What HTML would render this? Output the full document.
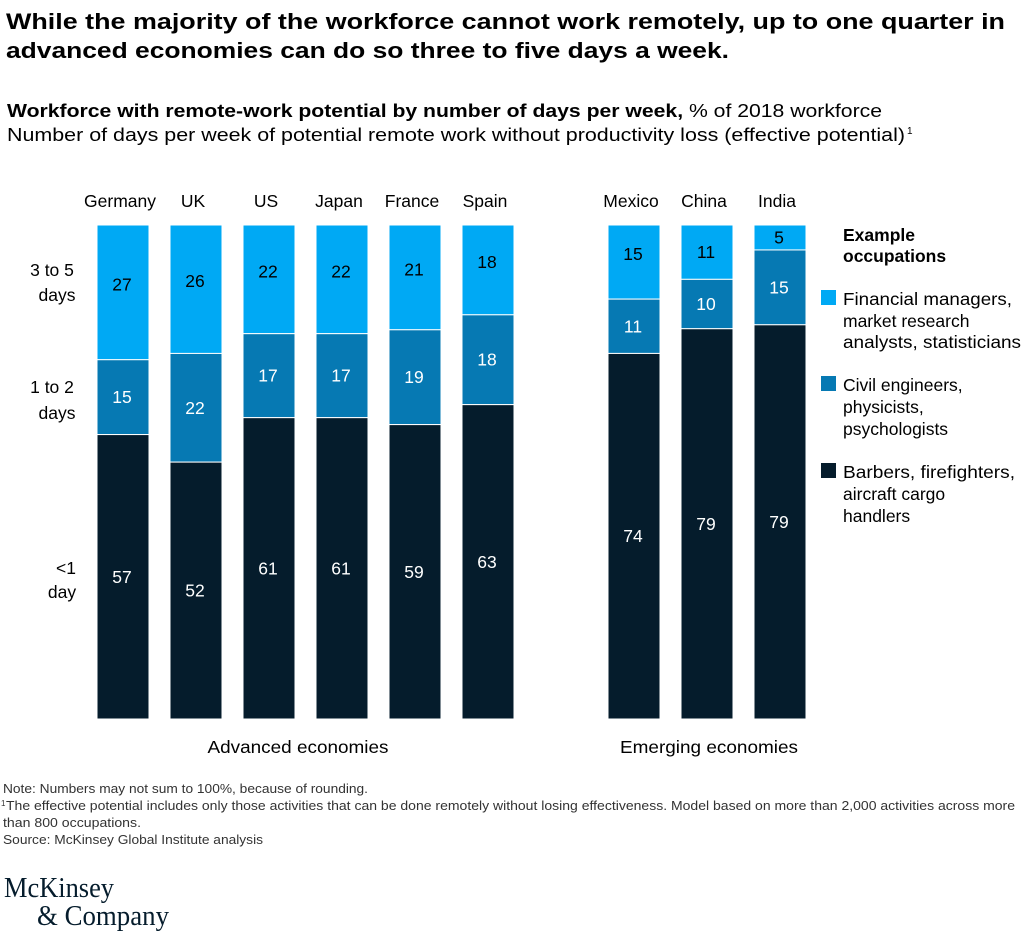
<!DOCTYPE html>
<html><head><meta charset="utf-8"><style>
body{margin:0;background:#fff;font-family:"Liberation Sans",sans-serif;}
#wrap{position:relative;width:1024px;height:941px;overflow:hidden;}
</style></head><body>
<div id="wrap">
<svg id="chart" width="1024" height="941" font-family="Liberation Sans, sans-serif">
<text x="6" y="29" font-size="22.5" font-weight="bold" fill="#000" textLength="999" lengthAdjust="spacingAndGlyphs">While the majority of the workforce cannot work remotely, up to one quarter in</text>
<text x="6" y="58" font-size="22.5" font-weight="bold" fill="#000" textLength="723" lengthAdjust="spacingAndGlyphs">advanced economies can do so three to five days a week.</text>
<text x="7" y="117" font-size="18" fill="#000" textLength="875" lengthAdjust="spacingAndGlyphs"><tspan font-weight="bold">Workforce with remote-work potential by number of days per week,</tspan> % of 2018 workforce</text>
<text x="7" y="141" font-size="18" fill="#000" textLength="898" lengthAdjust="spacingAndGlyphs">Number of days per week of potential remote work without productivity loss (effective potential)</text>
<text x="907" y="134" font-size="10" fill="#000">1</text>
<g font-size="17.5" fill="#000" text-anchor="middle">
<text x="52" y="276">3 to 5</text>
<text x="57" y="301">days</text>
<text x="52" y="393">1 to 2</text>
<text x="57" y="419">days</text>
<text x="66" y="574">&lt;1</text>
<text x="62" y="598">day</text>
<text x="298" y="753" textLength="181" lengthAdjust="spacingAndGlyphs">Advanced economies</text>
<text x="709" y="753" textLength="178" lengthAdjust="spacingAndGlyphs">Emerging economies</text>
</g>
<g id="bars"></g>
<g font-size="17.5" fill="#000">
<text x="843" y="241" font-weight="bold">Example</text>
<text x="843" y="262" font-weight="bold">occupations</text>
<rect x="821" y="290" width="15" height="15" fill="#00a9f4"/>
<text x="843" y="305" textLength="169" lengthAdjust="spacingAndGlyphs">Financial managers,</text>
<text x="843" y="327">market research</text>
<text x="843" y="348" textLength="178" lengthAdjust="spacingAndGlyphs">analysts, statisticians</text>
<rect x="821" y="376" width="15" height="15" fill="#0679b3"/>
<text x="843" y="391">Civil engineers,</text>
<text x="843" y="413">physicists,</text>
<text x="843" y="435">psychologists</text>
<rect x="821" y="463" width="15" height="15" fill="#051c2c"/>
<text x="843" y="478" textLength="172" lengthAdjust="spacingAndGlyphs">Barbers, firefighters,</text>
<text x="843" y="500">aircraft cargo</text>
<text x="843" y="522">handlers</text>
</g>
<g font-size="12.5" fill="#333">
<text x="3" y="793" textLength="365" lengthAdjust="spacingAndGlyphs">Note: Numbers may not sum to 100%, because of rounding.</text>
<text x="1" y="806" font-size="8">1</text>
<text x="6" y="810" textLength="1009" lengthAdjust="spacingAndGlyphs">The effective potential includes only those activities that can be done remotely without losing effectiveness. Model based on more than 2,000 activities across more</text>
<text x="3" y="827" textLength="138" lengthAdjust="spacingAndGlyphs">than 800 occupations.</text>
<text x="3" y="844" textLength="260" lengthAdjust="spacingAndGlyphs">Source: McKinsey Global Institute analysis</text>
</g>
<text x="4" y="897" font-family="Liberation Serif, serif" font-size="28" fill="#051c2c" textLength="110" lengthAdjust="spacingAndGlyphs">McKinsey</text>
<text x="37" y="925" font-family="Liberation Serif, serif" font-size="28" fill="#051c2c" textLength="132" lengthAdjust="spacingAndGlyphs">&amp; Company</text>
</svg>
</div>
<script>
const countries = ["Germany","UK","US","Japan","France","Spain","Mexico","China","India"];
const days3to5 = [27,26,22,22,21,18,15,11,5];
const days1to2 = [15,22,17,17,19,18,11,10,15];
const daysLt1 = [57,52,61,61,59,63,74,79,79];
const NS="http://www.w3.org/2000/svg";
const g=document.getElementById('bars');
const top0=225, bot=719, bw=52;
function xPos(i){return i<6 ? 97+i*73 : 608+(i-6)*73;}
function mk(tag,attrs){const e=document.createElementNS(NS,tag);for(const k in attrs)e.setAttribute(k,attrs[k]);return e;}
const colors=["#00a9f4","#0679b3","#051c2c"];
const txtCol=["#000","#fff","#fff"];
const segNames=["3to5","1to2","lt1"];
countries.forEach((c,i)=>{
  const vals=[days3to5[i],days1to2[i],daysLt1[i]];
  const sum=vals[0]+vals[1]+vals[2];
  const x=xPos(i);
  let y=top0;
  const lab=mk('text',{x:x+bw/2-3,y:207,'text-anchor':'middle','font-size':17.5,fill:'#000'});
  lab.textContent=c;
  
  
  g.appendChild(lab);
  vals.forEach((v,k)=>{
    const h=v/sum*(bot-top0);
    const r=mk('rect',{x:x,y:y,width:bw,height:h,fill:colors[k],stroke:'#fff','stroke-width':1});
    
    
    g.appendChild(r);
    const off=(k==0 && h>60)?-2:6;
    const t=mk('text',{x:x+bw/2-1,y:y+h/2+off,'text-anchor':'middle','font-size':17.5,fill:txtCol[k]});
    t.textContent=v;
    
    
    g.appendChild(t);
    y+=h;
  });
});
</script>
</body></html>
